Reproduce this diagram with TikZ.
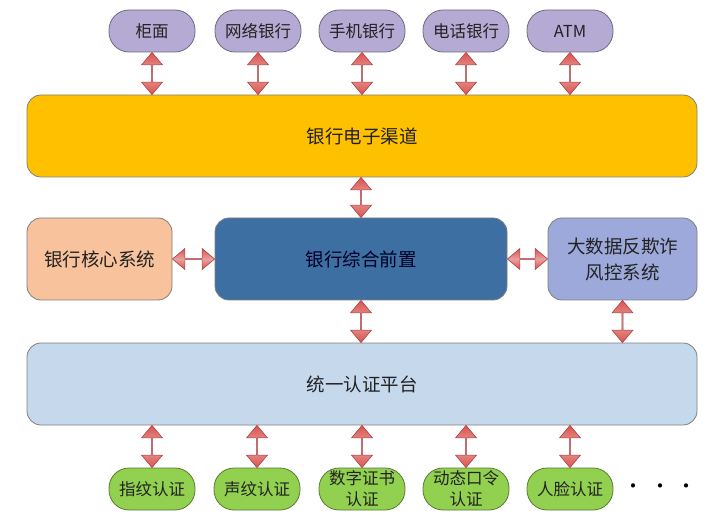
\documentclass[tikz,border=0pt]{standalone}
\usepackage{fontspec}
\setmainfont{Noto Sans CJK SC}
\usetikzlibrary{shapes.arrows, calc}
\definecolor{chanfill}{HTML}{B4AAD3}
\definecolor{chanedge}{HTML}{6E6A80}
\definecolor{barorange}{HTML}{FFC000}
\definecolor{barblue}{HTML}{C6D9EC}
\definecolor{coreorange}{HTML}{F7C29C}
\definecolor{frontblue}{HTML}{3D6FA3}
\definecolor{riskblue}{HTML}{9DA9DB}
\definecolor{authgreen}{HTML}{92D050}
\definecolor{authedge}{HTML}{5B7A33}
\definecolor{boxedge}{HTML}{7F7F7F}
\definecolor{arrowred}{HTML}{D9534F}
\definecolor{arrowedge}{HTML}{A84444}
\definecolor{txt}{HTML}{222222}

\tikzset{
  chan/.style={rectangle, rounded corners=20pt, minimum width=86pt, minimum height=42pt,
    fill=chanfill, draw=chanedge, line width=0.8pt, inner sep=0pt,
    font=\fontsize{16.5}{20}\selectfont, text=txt},
  auth/.style={chan, fill=authgreen, draw=authedge, align=center},
  bar/.style={rectangle, rounded corners=14pt, minimum width=670pt, minimum height=82pt,
    draw=boxedge, line width=0.8pt, font=\fontsize{18.5}{22}\selectfont, text=txt},
  sysbox/.style={bar, minimum width=145pt},
  dblarrow/.style={double arrow, double arrow head extend=5pt, double arrow tip angle=80,
    minimum width=21pt, inner sep=0pt, draw=arrowedge, line width=0.6pt,
    top color=arrowred, bottom color=arrowred, middle color=arrowred!55}
}

% two-headed block arrow between two points
\newcommand{\linkarrow}[2]{%
  \path let \p1=(#1), \p2=(#2), \n1={veclen(\x2-\x1,\y2-\y1)},
    \n2={atan2(\y2-\y1,\x2-\x1)} in
    node[dblarrow, minimum height=\n1, rotate=\n2] at ($(\p1)!0.5!(\p2)$) {};}

\begin{document}
\begin{tikzpicture}[x=1pt, y=-1pt]
\useasboundingbox (0,0) rectangle (722,518);

% access channels
\node[chan] (counter) at (152,31) {柜面};
\node[chan] (netbank) at (258,31) {网络银行};
\node[chan] (mobile)  at (362,31) {手机银行};
\node[chan] (phone)   at (466,31) {电话银行};
\node[chan] (atm)     at (570,31) {ATM};

\node[bar, fill=barorange] (channel) at (362,136) {银行电子渠道};

% middle layer
\node[sysbox, fill=coreorange] (core) at (99.5,259) {银行核心系统};
\node[sysbox, fill=frontblue, minimum width=292pt, text=black!85!blue] (front) at (361,259) {银行综合前置};
\node[sysbox, fill=riskblue, minimum width=149pt, align=center,
      font=\fontsize{18.5}{26}\selectfont] (risk) at (622.5,259) {大数据反欺诈\\风控系统};

\node[bar, fill=barblue] (authbar) at (362,384) {统一认证平台};

% authentication methods
\node[auth] (finger) at (152,489) {指纹认证};
\node[auth] (voice)  at (257,489) {声纹认证};
\node[auth, font=\fontsize{16.5}{21}\selectfont] (cert) at (362,489) {数字证书\\认证};
\node[auth, font=\fontsize{16.5}{21}\selectfont] (otp)  at (466,489) {动态口令\\认证};
\node[auth] (face)   at (570,489) {人脸认证};
\node[font=\fontsize{20}{20}\selectfont] (more) at (660,489) {•\,\,•\,\,•};

% arrows
\foreach \ch in {counter, netbank, mobile, phone, atm}{
  \linkarrow{\ch.south}{\ch.south |- channel.north}
}
\linkarrow{channel.south -| front.north}{front.north}
\linkarrow{core.east}{front.west}
\linkarrow{front.east}{risk.west}
\linkarrow{front.south}{front.south |- authbar.north}
\linkarrow{risk.south}{risk.south |- authbar.north}
\foreach \au in {finger, voice, cert, otp, face}{
  \linkarrow{\au.north |- authbar.south}{\au.north}
}
\end{tikzpicture}
\end{document}
